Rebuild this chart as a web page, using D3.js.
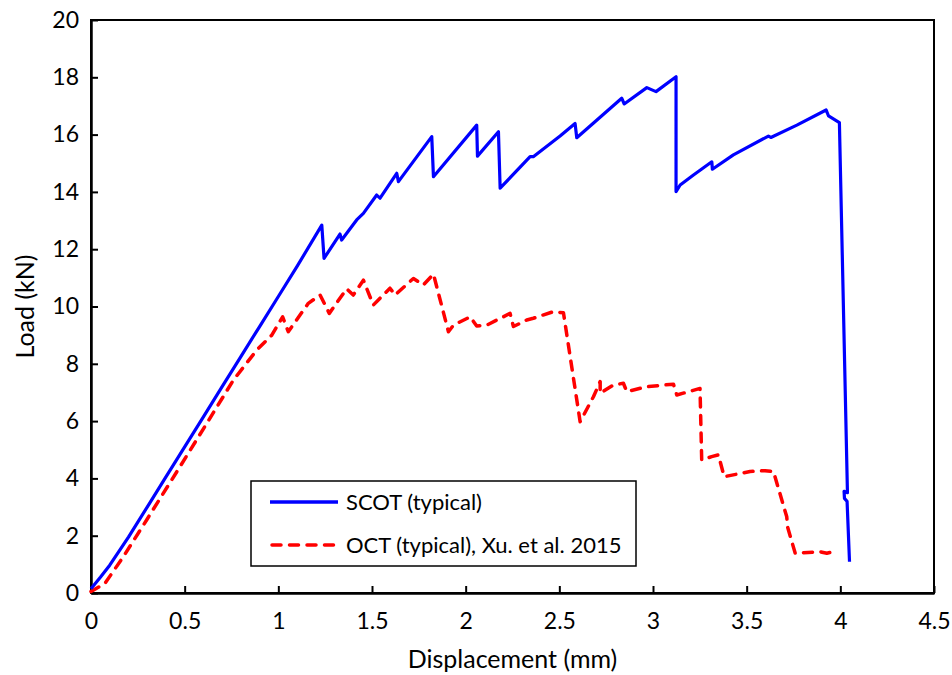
<!DOCTYPE html>
<html><head><meta charset="utf-8">
<script src="https://cdn.jsdelivr.net/npm/d3@7"></script>
<style>body{margin:0;background:#fff}svg text{font-family:Lato,"Open Sans",sans-serif;fill:#000}</style>
</head><body>
<svg id="c" width="952" height="675"></svg>
<script>
const xTicks = [0,0.5,1,1.5,2,2.5,3,3.5,4,4.5];
const yTicks = [0,2,4,6,8,10,12,14,16,18,20];
const seriesNames = ["SCOT (typical)","OCT (typical), Xu. et al. 2015"];
const scotX = [0,0.05,0.1,0.2,0.3,0.4,0.5,0.6,0.7,0.8,0.9,1.0,1.1,1.232,1.244,1.329,1.338,1.418,1.454,1.525,1.543,1.632,1.641,1.819,1.828,2.059,2.063,2.175,2.184,2.344,2.361,2.504,2.584,2.593,2.833,2.846,2.967,3.016,3.123,3.123,3.145,3.216,3.314,3.317,3.429,3.616,3.629,3.768,3.924,3.937,3.995,4.038,4.020,4.022,4.036,4.049];
const scotY = [0.15,0.55,0.97,1.95,3.0,4.05,5.1,6.15,7.2,8.25,9.3,10.35,11.4,12.84,11.68,12.53,12.32,13.02,13.25,13.89,13.78,14.65,14.36,15.93,14.53,16.33,15.25,16.10,14.13,15.23,15.23,15.95,16.39,15.89,17.27,17.07,17.64,17.50,18.02,14.01,14.24,14.59,15.05,14.79,15.29,15.95,15.9,16.33,16.86,16.65,16.42,3.5,3.55,3.3,3.2,1.09];
const octX = [0,0.075,0.173,0.297,0.475,0.618,0.760,0.885,0.965,1.023,1.053,1.160,1.223,1.272,1.365,1.400,1.454,1.507,1.543,1.596,1.623,1.721,1.774,1.828,1.908,1.935,2.024,2.059,2.113,2.201,2.237,2.255,2.326,2.361,2.468,2.522,2.611,2.682,2.718,2.718,2.789,2.842,2.860,2.967,3.109,3.127,3.251,3.260,3.313,3.349,3.380,3.518,3.598,3.643,3.714,3.718,3.759,3.892,3.928,3.960];
const octY = [0.05,0.34,1.27,2.55,4.41,5.92,7.43,8.48,9.0,9.64,9.12,10.11,10.40,9.76,10.62,10.4,10.92,10.05,10.29,10.64,10.40,10.98,10.75,11.13,9.12,9.35,9.64,9.32,9.35,9.64,9.76,9.30,9.53,9.59,9.82,9.78,5.98,6.85,7.38,6.97,7.26,7.32,7.03,7.2,7.29,6.91,7.14,4.64,4.76,4.82,4.06,4.24,4.27,4.24,2.66,2.31,1.39,1.44,1.39,1.44];

const svg = d3.select("#c");
const L=91,R=934,T=20,B=593;
const x = d3.scaleLinear().domain([0,4.5]).range([L,R]);
const y = d3.scaleLinear().domain([0,20]).range([B,T]);
const fs = 23, fsTitle = 25, fsLegend = 22;

// frame
svg.append("rect").attr("x",L).attr("y",T).attr("width",R-L).attr("height",B-T)
  .attr("fill","none").attr("stroke","#000").attr("stroke-width",2);

const xa = svg.append("g").attr("transform",`translate(0,${B})`)
  .call(d3.axisBottom(x).tickValues(xTicks).tickSizeInner(-7).tickSizeOuter(0).tickPadding(20).tickFormat(d=>String(d)));
const ya = svg.append("g").attr("transform",`translate(${L},0)`)
  .call(d3.axisLeft(y).tickValues(yTicks).tickSizeInner(-7).tickSizeOuter(0).tickPadding(12).tickFormat(d=>String(d)));
[xa,ya].forEach(a=>{
  a.select(".domain").attr("stroke","#000").attr("stroke-width",2.5);
  a.selectAll(".tick line").attr("stroke","#000").attr("stroke-width",2);
  a.selectAll("text").attr("font-size",fs).attr("font-family","Lato");
});

svg.append("text").attr("x",(L+R)/2).attr("y",668).attr("text-anchor","middle").attr("font-size",fsTitle).text("Displacement (mm)");
svg.append("text").attr("transform",`translate(34,${(T+B)/2}) rotate(-90)`).attr("text-anchor","middle").attr("font-size",fsTitle).text("Load (kN)");

const line = d3.line().x(d=>x(d[0])).y(d=>y(d[1]));
const scot = scotX.map((v,i)=>[v,scotY[i]]);
const oct = octX.map((v,i)=>[v,octY[i]]);
const styles = [{c:"#0000ff",dash:null},{c:"#ff0000",dash:"9,8.5"}];
svg.append("path").datum(oct).attr("d",line).attr("fill","none").attr("stroke",styles[1].c)
  .attr("stroke-width",3.5).attr("stroke-dasharray",styles[1].dash).attr("stroke-linecap","round").attr("stroke-linejoin","round");
svg.append("path").datum(scot).attr("d",line).attr("fill","none").attr("stroke",styles[0].c)
  .attr("stroke-width",3.2).attr("stroke-linejoin","round");

// legend
const lg = svg.append("g");
lg.append("rect").attr("x",251).attr("y",481).attr("width",385).attr("height",85)
  .attr("fill","#fff").attr("stroke","#000").attr("stroke-width",1.5);
seriesNames.forEach((n,i)=>{
  const yy = 502 + i*43;
  lg.append("line").attr("x1",i?272:270).attr("x2",338).attr("y1",yy).attr("y2",yy)
    .attr("stroke",styles[i].c).attr("stroke-width",3.5).attr("stroke-dasharray",styles[i].dash)
    .attr("stroke-linecap",i?"round":"butt");
  lg.append("text").attr("x",346).attr("y",yy+8).attr("font-size",fsLegend).text(n);
});
</script>
</body></html>
